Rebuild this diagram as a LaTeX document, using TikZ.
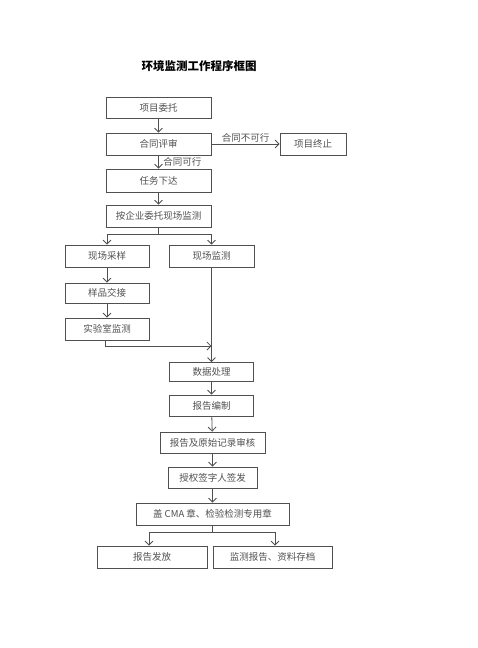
\documentclass[tikz,border=0pt]{standalone}
\usepackage{fontspec}
\newfontfamily\cjk{Noto Sans CJK SC}
\usetikzlibrary{arrows.meta, positioning}
\definecolor{colLine}{HTML}{505050}
\definecolor{colText}{HTML}{505050}

\begin{document}
\begin{tikzpicture}[x=1pt, y=-1pt, font=\cjk\fontsize{9.5}{11}\selectfont,
  box/.style={draw=colLine, line width=0.8pt, text=colText, minimum height=21pt, inner sep=0pt},
  link/.style={draw=colLine, line width=0.8pt, -{Straight Barb[length=4pt,width=8pt]}},
  wire/.style={draw=colLine, line width=0.8pt},
  note/.style={text=colText, inner sep=1.5pt}]
  % Page frame
  \useasboundingbox (0,0) rectangle (477,648);

  % Title
  \node[font=\cjk\bfseries\fontsize{11.5}{14}\selectfont] (title) at (199,66) {环境监测工作程序框图};

  % Upper column
  \node[box, minimum width=105pt] (entrust) at (158.5,107.5) {项目委托};
  \node[box, minimum width=105pt, minimum height=22pt] (review) at (158.5,144) {合同评审};
  \node[box, minimum width=66pt, minimum height=22pt] (stop) at (313,144) {项目终止};
  \node[box, minimum width=105pt, minimum height=23pt] (task) at (158.5,180.5) {任务下达};
  \node[box, minimum width=105pt, minimum height=22pt] (onsite) at (158.5,216) {按企业委托现场监测};

  % Two branches
  \node[box, minimum width=84pt, minimum height=22pt] (sampling) at (107,256) {现场采样};
  \node[box, minimum width=85pt, minimum height=22pt] (fieldmon) at (211.5,256) {现场监测};
  \node[box, minimum width=84pt, minimum height=20pt] (handover) at (107,293) {样品交接};
  \node[box, minimum width=84pt, minimum height=22pt] (labtest) at (107,329) {实验室监测};

  % Lower column
  \node[box, minimum width=84pt, minimum height=19pt] (data) at (211.5,372) {数据处理};
  \node[box, minimum width=84pt] (compile) at (211.5,405.5) {报告编制};
  \node[box, minimum width=105pt] (audit) at (212.5,442.5) {报告及原始记录审核};
  \node[box, minimum width=89pt] (sign) at (212.5,477.5) {授权签字人签发};
  \node[box, minimum width=153pt, minimum height=22pt] (stamp) at (212.5,514) {盖 CMA 章、检验检测专用章};
  \node[box, minimum width=110pt, minimum height=22pt] (issue) at (152,557) {报告发放};
  \node[box, minimum width=119pt, minimum height=22pt] (archive) at (272.5,557) {监测报告、资料存档};

  % Connectors
  \draw[link] (entrust) -- (review);
  \draw[link] (review) -- node[note, above] (nogo) {合同不可行} (stop);
  \draw[link] (review) -- node[note, right, xshift=3pt] (go) {合同可行} (task);
  \draw[link] (task) -- (onsite);

  \coordinate (split1) at (158.5,234);
  \draw[wire] (onsite) -- (split1);
  \draw[link] (split1) -| (sampling.north);
  \draw[link] (split1) -| (fieldmon.north);
  \draw[link] (sampling) -- (handover);
  \draw[link] (handover) -- (labtest);

  \coordinate (merge) at (211.5,346);
  \draw[link] ([xshift=-2pt]labtest.south) |- (merge);
  \draw[link] (fieldmon) -- (data);

  \draw[link] (data) -- (compile);
  \draw[link] (compile) -- (audit);
  \draw[link] (audit) -- (sign);
  \draw[link] (sign) -- (stamp);

  \coordinate (split2) at (212.5,532);
  \draw[wire] (stamp) -- (split2);
  \draw[link] (split2) -| ([xshift=-3pt]issue.north);
  \draw[link] (split2) -| ([xshift=2.5pt]archive.north);
\end{tikzpicture}
\end{document}
